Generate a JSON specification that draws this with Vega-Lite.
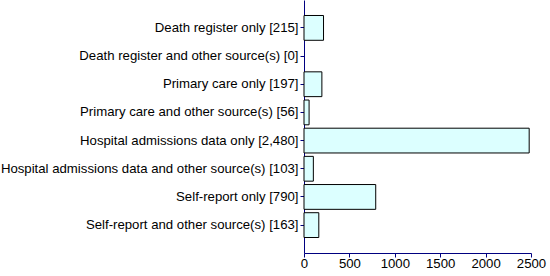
{
  "$schema": "https://vega.github.io/schema/vega-lite/v6.json",
  "autosize": {"type": "none"},
  "width": 227,
  "height": 253,
  "padding": {"left": 304, "top": 0, "right": 19, "bottom": 23},
  "background": "white",
  "config": {"view": {"stroke": null}, "font": "Liberation Sans"},
  "data": {"values": [
    {"label": "Death register only [215]", "value": 215},
    {"label": "Death register and other source(s) [0]", "value": 0},
    {"label": "Primary care only [197]", "value": 197},
    {"label": "Primary care and other source(s) [56]", "value": 56},
    {"label": "Hospital admissions data only [2,480]", "value": 2480},
    {"label": "Hospital admissions data and other source(s) [103]", "value": 103},
    {"label": "Self-report only [790]", "value": 790},
    {"label": "Self-report and other source(s) [163]", "value": 163}
  ]},
  "mark": {"type": "bar", "fill": "#dcffff", "stroke": "black", "strokeWidth": 1},
  "encoding": {
    "y": {"field": "label", "type": "nominal", "sort": null, "title": null,
      "scale": {"paddingInner": 0.12, "paddingOuter": 0.55},
      "axis": {"domainColor": "#000080", "tickColor": "#000080", "tickSize": 4, "labelFontSize": 13.2, "labelColor": "black", "labelPadding": 2, "labelLimit": 400, "grid": false}},
    "x": {"field": "value", "type": "quantitative", "title": null,
      "scale": {"domain": [0, 2500], "nice": false},
      "axis": {"values": [0, 500, 1000, 1500, 2000, 2500], "format": "d", "domainColor": "#000080", "tickColor": "#000080", "tickSize": 4, "labelFontSize": 13.2, "labelColor": "black", "labelPadding": 0, "grid": false, "labelFlush": false}},
    "strokeOpacity": {"condition": {"test": "datum.value > 0", "value": 1}, "value": 0}
  }
}
